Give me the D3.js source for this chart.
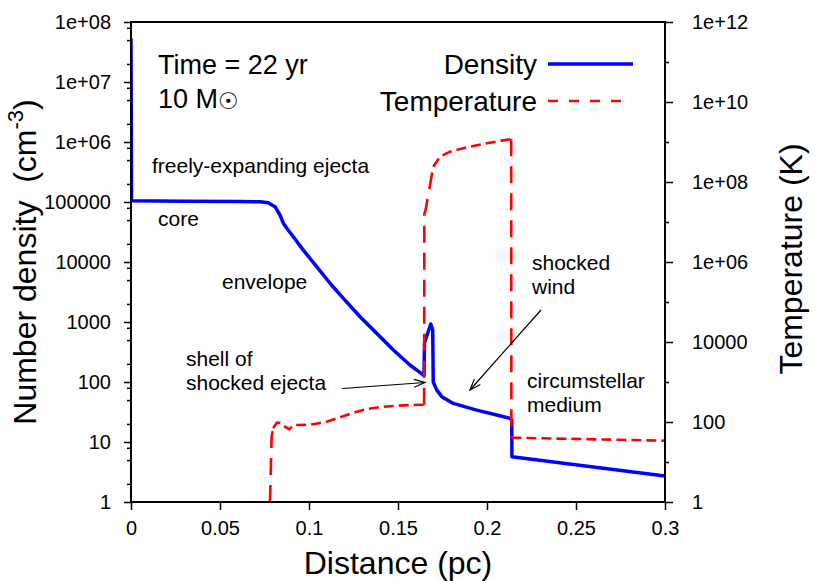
<!DOCTYPE html>
<html><head><meta charset="utf-8">
<script src="https://cdn.jsdelivr.net/npm/d3@7"></script>
<style>
body{margin:0;background:#fff}
svg text{font-family:"Liberation Sans",Arial,Helvetica,sans-serif;fill:#000}
</style>
</head><body>
<svg id="chart" width="830" height="581"></svg>
<script>
// ---- data ----
const densityX = [0, 0.0003, 0.03, 0.06, 0.0725, 0.0771, 0.0809, 0.0837, 0.0856, 0.0875, 0.0912, 0.0968, 0.1043, 0.1118, 0.1193, 0.1287, 0.138, 0.1474, 0.1567, 0.1642, 0.1646, 0.1649, 0.1684, 0.1695, 0.1698, 0.1717, 0.1746, 0.1811, 0.1942, 0.2055, 0.2129, 0.2139, 0.2140, 0.3];
const densityY = [5.3e7, 1.05e5, 1.03e5, 1.02e5, 1.01e5, 9.7e4, 8.35e4, 6.07e4, 4.42e4, 3.65e4, 2.64e4, 1.58e4, 8350, 4420, 2480, 1225, 648, 341, 192, 131, 128, 450, 926, 735, 100, 74, 57, 44, 34, 28.2, 24.8, 23.3, 5.7, 2.7];

const tempX = [0.0781, 0.0790, 0.0799, 0.0819, 0.0837, 0.0865, 0.0889, 0.0912, 0.0949, 0.1024, 0.1099, 0.1174, 0.1249, 0.1324, 0.1417, 0.1530, 0.1647, 0.1648, 0.1655, 0.1698, 0.1736, 0.1792, 0.1886, 0.1979, 0.2073, 0.2129, 0.2136, 0.2137, 0.3];
const tempY = [1, 42.9, 69.6, 96, 96, 76.3, 65.7, 84.1, 84, 87.6, 101.7, 131, 171, 211, 241, 261, 271, 1.6e7, 2.0e7, 2.4e8, 4.29e8, 5.72e8, 7.37e8, 8.9e8, 1.06e9, 1.17e9, 1.17e9, 40.5, 34.1];

const xTicks = [0, 0.05, 0.1, 0.15, 0.2, 0.25, 0.3];
const xTickLabels = ["0", "0.05", "0.1", "0.15", "0.2", "0.25", "0.3"];
const leftTicks = [1, 10, 100, 1000, 1e4, 1e5, 1e6, 1e7, 1e8];
const leftTickLabels = ["1", "10", "100", "1000", "10000", "100000", "1e+06", "1e+07", "1e+08"];
const rightTicks = [1, 1e2, 1e4, 1e6, 1e8, 1e10, 1e12];
const rightTickLabels = ["1", "100", "10000", "1e+06", "1e+08", "1e+10", "1e+12"];
const leftMinorFactors = [2, 5, 8];
const rightMinorTicks = [10, 1e3, 1e5, 1e7, 1e9, 1e11];

const seriesNames = ["Density", "Temperature"];
const seriesColors = ["#0000ff", "#ff0000"];

// ---- layout ----
const L = 131, R = 665, T = 22, B = 502;
const svg = d3.select("#chart");
const x = d3.scaleLinear().domain([0, 0.3]).range([L, R]);
const yL = d3.scaleLog().domain([1, 1e8]).range([B, T]);
const yR = d3.scaleLog().domain([1, 1e12]).range([B, T]);

svg.append("defs").append("clipPath").attr("id", "clip")
  .append("rect").attr("x", L).attr("y", T).attr("width", R - L).attr("height", B - T);

// arrow marker (open arrowhead)
svg.select("defs").append("marker").attr("id", "arr")
  .attr("viewBox", "-12 -6 14 12").attr("refX", 0).attr("refY", 0)
  .attr("markerWidth", 14).attr("markerHeight", 12).attr("markerUnits", "userSpaceOnUse")
  .attr("orient", "auto")
  .append("path").attr("d", "M-11,-4 L0,0 L-11,4").attr("fill", "none").attr("stroke", "#000").attr("stroke-width", 1.2);

// ---- axes ----
const fs = 20;
function styleAxis(g) {
  g.select(".domain").remove();
  g.selectAll(".tick line").attr("stroke", "#000").attr("stroke-width", 1.5);
  g.selectAll(".tick text").style("font-size", fs + "px").attr("fill", "#000");
}
const minorLeft = [];
leftTicks.slice(0, -1).forEach(t => leftMinorFactors.forEach(f => minorLeft.push(t * f)));

svg.append("g").attr("transform", `translate(${L},0)`)
  .call(d3.axisLeft(yL).tickValues(minorLeft).tickSize(4).tickFormat(""))
  .call(styleAxis);
svg.append("g").attr("transform", `translate(${L},0)`)
  .call(d3.axisLeft(yL).tickValues(leftTicks).tickSize(7).tickPadding(13)
    .tickFormat((d, i) => leftTickLabels[i]))
  .call(styleAxis);

svg.append("g").attr("transform", `translate(${R},0)`)
  .call(d3.axisRight(yR).tickValues(rightMinorTicks).tickSize(4).tickFormat(""))
  .call(styleAxis);
svg.append("g").attr("transform", `translate(${R},0)`)
  .call(d3.axisRight(yR).tickValues(rightTicks).tickSize(8).tickPadding(19)
    .tickFormat((d, i) => rightTickLabels[i]))
  .call(styleAxis);

svg.append("g").attr("transform", `translate(0,${B})`)
  .call(d3.axisBottom(x).tickValues(xTicks).tickSize(8).tickPadding(11)
    .tickFormat((d, i) => xTickLabels[i]))
  .call(styleAxis);

// ---- series ----
const plot = svg.append("g").attr("clip-path", "url(#clip)");

const density = densityX.map((d, i) => [d, densityY[i]]);
plot.append("path").datum(density)
  .attr("d", d3.line().x(d => x(d[0])).y(d => yL(d[1])))
  .attr("fill", "none").attr("stroke", seriesColors[0]).attr("stroke-width", 3.5)
  .attr("stroke-linejoin", "round");

// temperature: dashes look longer on the steep (vertical) parts in the reference
const temp = tempX.map((d, i) => [d, tempY[i]]);
const runs = [];
for (let i = 0; i < temp.length - 1; i++) {
  const a = temp[i], b = temp[i + 1];
  const dx = Math.abs(x(b[0]) - x(a[0])), dy = Math.abs(yR(b[1]) - yR(a[1]));
  const steep = dy > 3 * dx;
  const last = runs[runs.length - 1];
  if (last && last.steep === steep) last.pts.push(b);
  else runs.push({steep, pts: [a, b]});
}
const tLine = d3.line().x(d => x(d[0])).y(d => yR(d[1]));
runs.forEach(r => {
  plot.append("path").datum(r.pts)
    .attr("d", tLine)
    .attr("fill", "none").attr("stroke", seriesColors[1]).attr("stroke-width", 2.6)
    .attr("stroke-dasharray", r.steep ? "17,10" : "10,5");
});

// frame
svg.append("rect").attr("x", L).attr("y", T).attr("width", R - L).attr("height", B - T)
  .attr("fill", "none").attr("stroke", "#000").attr("stroke-width", 2);

// ---- axis titles ----
svg.append("text").attr("x", (L + R) / 2).attr("y", 574).attr("text-anchor", "middle")
  .style("font-size", "32px").text("Distance (pc)");

const yt = svg.append("text").attr("transform", `translate(36,${(T + B) / 2}) rotate(-90)`)
  .attr("text-anchor", "middle").style("font-size", "32px").style("white-space", "pre");
yt.append("tspan").text("Number density  (cm");
yt.append("tspan").attr("dy", -13).style("font-size", "22px").text("-3");
yt.append("tspan").attr("dy", 13).text(")");

svg.append("text").attr("transform", `translate(802,259) rotate(-90)`)
  .attr("text-anchor", "middle").style("font-size", "32px").text("Temperature (K)");

// ---- info text ----
svg.append("text").attr("x", 158).attr("y", 74).style("font-size", "27px").text("Time = 22 yr");
const mt = svg.append("text").attr("x", 158).attr("y", 108).style("font-size", "27px");
mt.append("tspan").text("10 M");
mt.append("tspan").style("font-family", "'DejaVu Sans'").style("font-size", "23px").attr("dy", 1).text("☉");

// ---- legend ----
const legY = [64, 101];
seriesNames.forEach((n, i) => {
  svg.append("text").attr("x", 537).attr("y", legY[i] + 10).attr("text-anchor", "end")
    .style("font-size", "28px").text(n);
  svg.append("line").attr("x1", 548).attr("x2", i === 0 ? 633 : 622)
    .attr("y1", legY[i]).attr("y2", legY[i])
    .attr("stroke", seriesColors[i]).attr("stroke-width", i === 0 ? 3.5 : 2.6)
    .attr("stroke-dasharray", i === 0 ? null : "10,11");
});

// ---- annotations ----
const ann = [
  {x: 152, y: 173, lines: ["freely-expanding ejecta"]},
  {x: 158, y: 226, lines: ["core"]},
  {x: 222, y: 289, lines: ["envelope"]},
  {x: 186, y: 366, lines: ["shell of", "shocked ejecta"]},
  {x: 532, y: 270, lines: ["shocked", "wind"]},
  {x: 527, y: 388, lines: ["circumstellar", "medium"]}
];
ann.forEach(a => {
  const t = svg.append("text").attr("x", a.x).attr("y", a.y).style("font-size", "21px");
  a.lines.forEach((l, i) => t.append("tspan").attr("x", a.x).attr("dy", i ? 24 : 0).text(l));
});
const arrows = [
  {x1: 342, y1: 388.5, x2: 425, y2: 382.5},
  {x1: 541, y1: 310, x2: 470, y2: 390}
];
arrows.forEach(a => svg.append("line").attr("x1", a.x1).attr("y1", a.y1).attr("x2", a.x2).attr("y2", a.y2)
  .attr("stroke", "#000").attr("stroke-width", 1.2).attr("marker-end", "url(#arr)"));
</script>
</body></html>
